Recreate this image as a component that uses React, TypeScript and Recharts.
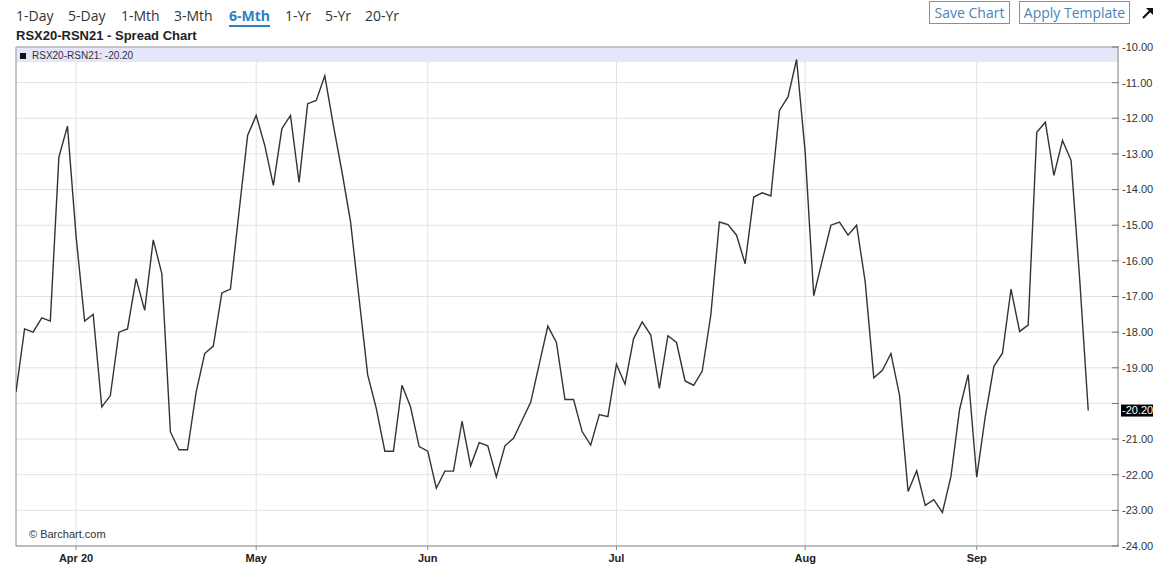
import React from "react";
import {
  LineChart, Line, XAxis, YAxis, CartesianGrid, ReferenceArea, ReferenceLine,
} from "recharts";

// daily spread closes, RSX20-RSN21
const spread = [
  -19.68, -17.91, -18.0, -17.6, -17.69, -13.09, -12.22, -15.3, -17.69, -17.5,
  -20.1, -19.78, -18.0, -17.91, -16.5, -17.39, -15.41, -16.36, -20.8, -21.3,
  -21.3, -19.68, -18.6, -18.39, -16.9, -16.79, -14.63, -12.48, -11.92, -12.76,
  -13.88, -12.29, -11.92, -13.8, -11.59, -11.5, -10.81, -12.2, -13.5, -14.9,
  -17.06, -19.2, -20.14, -21.34, -21.34, -19.49, -20.1, -21.21, -21.34, -22.38,
  -21.9, -21.9, -20.5, -21.75, -21.1, -21.19, -22.06, -21.19, -20.98, -20.47,
  -19.97, -18.9, -17.83, -18.29, -19.89, -19.89, -20.79, -21.17, -20.31, -20.37,
  -18.9, -19.46, -18.18, -17.71, -18.08, -19.58, -18.1, -18.29, -19.37, -19.49,
  -19.09, -17.52, -14.91, -14.98, -15.28, -16.08, -14.21, -14.09, -14.18, -11.78,
  -11.4, -10.35, -12.95, -16.98, -15.98, -15.0, -14.91, -15.28, -15.0, -16.59,
  -19.28, -19.07, -18.6, -19.77, -22.47, -21.89, -22.86, -22.7, -23.06, -22.04,
  -20.17, -19.19, -22.07, -20.36, -18.96, -18.59, -16.79, -17.98, -17.8, -12.39,
  -12.11, -13.6, -12.62, -13.18, -16.5, -20.2,
];

// session index where each month starts
const monthStarts = [7, 28, 48, 70, 92, 112];
const monthLabels = ["Apr 20", "May", "Jun", "Jul", "Aug", "Sep"];

const priceTicks = [-24, -23, -22, -21, -20, -19, -18, -17, -16, -15, -14, -13, -12, -11, -10];

const periods = ["1-Day", "5-Day", "1-Mth", "3-Mth", "6-Mth", "1-Yr", "5-Yr", "20-Yr"];
const periodLeft = [16, 68, 121, 174, 229, 285, 325, 365];
const activePeriod = "6-Mth";

const symbol = "RSX20-RSN21";

const data = spread.map((v, i) => ({ i, v }));
const last = spread[spread.length - 1];

const arial = "'Liberation Sans', Arial, sans-serif";
const open = "'Open Sans', sans-serif";

function LastLabel(props: any) {
  const vb = props.viewBox || {};
  const x = vb.x + vb.width + 3;
  const y = vb.y;
  return (
    <g>
      <rect x={x} y={y - 6} width={32} height={12} fill="#000" />
      <text x={x + 1} y={y} dy="0.355em" fill="#fff" fontSize={11} fontFamily={arial}>
        {last.toFixed(2)}
      </text>
    </g>
  );
}

// right-axis tick: short mark on the plot side of the axis line, label outside
function PriceTick(props: any) {
  const { x, y, payload } = props;
  const v = payload.value as number;
  return (
    <g>
      <line x1={x - 10} x2={x - 3} y1={y} y2={y} stroke="#777" />
      {v !== Math.round(last) && (
        <text x={x} y={y} dy="0.355em" fontSize={11} fill="#333" fontFamily={arial}>
          {v.toFixed(2)}
        </text>
      )}
    </g>
  );
}

function Button({ left, width, text }: { left: number; width: number; text: string }) {
  return (
    <div
      style={{
        position: "absolute", left, top: 1, width, height: 23, boxSizing: "border-box",
        border: "1px solid #6b97bb", color: "#4a84b6", fontFamily: open, fontSize: 14,
        display: "flex", alignItems: "center", justifyContent: "center",
      }}
    >
      {text}
    </div>
  );
}

export default function App() {
  return (
    <div style={{ position: "absolute", left: 0, top: 0, width: 1172, height: 578, background: "#fff", overflow: "hidden" }}>
      {periods.map((p, k) => (
        <div
          key={p}
          style={{
            position: "absolute", left: periodLeft[k], top: 9, fontFamily: open, fontSize: 14, lineHeight: "14px",
            color: p === activePeriod ? "#2f7fc1" : "#333",
            fontWeight: p === activePeriod ? 700 : 400,
            whiteSpace: "nowrap",
          }}
        >
          {p}
          {p === activePeriod && (
            <div style={{ position: "absolute", left: 0, right: 0, top: 16, height: 2, background: "#2f7fc1" }} />
          )}
        </div>
      ))}
      <Button left={929} width={81} text="Save Chart" />
      <Button left={1019} width={111} text="Apply Template" />
      <svg style={{ position: "absolute", left: 1141, top: 6 }} width={14} height={14}>
        <line x1={2} y1={12} x2={10} y2={4} stroke="#111" strokeWidth={2.2} />
        <polygon points="5,2 12,2 12,9" fill="#111" />
      </svg>
      <div style={{ position: "absolute", left: 16, top: 29, fontFamily: arial, fontSize: 13, lineHeight: "13px", fontWeight: 700, color: "#222" }}>
        {symbol} - Spread Chart
      </div>

      <div style={{ position: "absolute", left: 0, top: 0 }}>
        <LineChart width={1172} height={578} data={data} margin={{ top: 47, right: 0, bottom: 0, left: 16 }}>
          <ReferenceArea y1={-10.42} y2={-10} fill="#e6e6fa" fillOpacity={1} stroke="none" ifOverflow="visible" />
          <CartesianGrid stroke="#e2e2e2" strokeWidth={1} />
          <XAxis
            type="number"
            dataKey="i"
            domain={[0, 128.47]}
            allowDataOverflow
            ticks={monthStarts}
            tickFormatter={(v: number) => monthLabels[monthStarts.indexOf(v)] ?? ""}
            height={32}
            stroke="#888"
            tickSize={4}
            tickMargin={4}
            tick={{ fontSize: 11, fontWeight: 700, fill: "#222", fontFamily: arial }}
          />
          <YAxis
            orientation="right"
            width={54}
            domain={[-24, -10]}
            ticks={priceTicks}
            allowDataOverflow
            stroke="#888"
            tickLine={false}
            tickSize={0}
            tickMargin={4}
            tick={<PriceTick />}
          />
          <ReferenceLine y={-10} stroke="#9a9a9a" />
          <ReferenceLine x={0} stroke="#9a9a9a" />
          <Line
            type="linear"
            dataKey="v"
            stroke="#333"
            strokeWidth={1.4}
            dot={false}
            isAnimationActive={false}
          />
          <ReferenceLine y={last} stroke="none" label={<LastLabel />} />
        </LineChart>
      </div>

      <div style={{ position: "absolute", left: 20, top: 51, fontFamily: arial, fontSize: 10, lineHeight: "10px", color: "#333", whiteSpace: "nowrap" }}>
        <span style={{ display: "inline-block", width: 6, height: 6, background: "#111", marginRight: 6 }} />
        {symbol}: {last.toFixed(2)}
      </div>
      <div style={{ position: "absolute", left: 29, top: 529, fontFamily: arial, fontSize: 11, lineHeight: "11px", color: "#333" }}>
        © Barchart.com
      </div>
    </div>
  );
}
